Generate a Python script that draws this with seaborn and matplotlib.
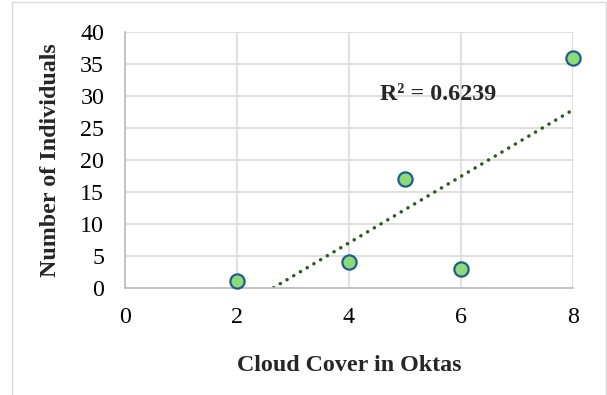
import numpy as np
import pandas as pd
import matplotlib
matplotlib.use("Agg")
import matplotlib.pyplot as plt
import seaborn as sns
from matplotlib.patches import Rectangle

cloud_cover = [2, 4, 5, 6, 8]
individuals = [1, 4, 17, 3, 36]
x_ticks = [0, 2, 4, 6, 8]
y_ticks = [0, 5, 10, 15, 20, 25, 30, 35, 40]
r2_label = "R² = 0.6239"

df = pd.DataFrame({"x": cloud_cover, "y": individuals})

sns.set_theme(style="white")
plt.rcParams['font.family'] = ['Liberation Serif', 'DejaVu Serif']

FS = 17.3
fig = plt.figure(figsize=(6.07, 3.95), dpi=100)
W, H = 607, 395
ax = fig.add_axes([125 / W, 1 - 287.7 / H, (572.7 - 125) / W, (287.7 - 32) / H])

# figure border
fig.patches.append(Rectangle((12 / W, -0.01), (606 - 12) / W, (1 - 2 / H) + 0.01,
                             transform=fig.transFigure, fill=False,
                             edgecolor="#d9d9d9", linewidth=1.0))

# trendline (least squares)
xa = np.array(cloud_cover, dtype=float)
ya = np.array(individuals, dtype=float)
slope, intercept = np.polyfit(xa, ya, 1)
x0 = max(xa.min(), -intercept / slope)
xl = np.array([x0, xa.max()])
ax.plot(xl, slope * xl + intercept, linestyle=(0, (0.05, 2.2)), color="#2b5a1c",
        linewidth=2.5, dash_capstyle="round", zorder=2)

sns.scatterplot(data=df, x="x", y="y", ax=ax, s=105, color="#8cdb78",
                edgecolor="#1f5f8b", linewidth=1.6, zorder=3, clip_on=False)

ax.set_xlim(0, 8)
ax.set_ylim(0, 40)
ax.set_xticks(x_ticks)
ax.set_yticks(y_ticks)
ax.set_xticklabels([str(v) for v in x_ticks], fontsize=FS, color="black")
ax.set_yticklabels([str(v) for v in y_ticks], fontsize=FS, color="black")
ax.tick_params(axis="x", length=0, pad=14)
ax.tick_params(axis="y", length=0, pad=15)
ax.grid(True, color="#d9d9d9", linewidth=1.2)
ax.set_axisbelow(True)
for side in ["top", "right"]:
    ax.spines[side].set_visible(False)
for side in ["left", "bottom"]:
    ax.spines[side].set_color("#bfbfbf")
    ax.spines[side].set_linewidth(1.3)

ax.set_xlabel("Cloud Cover in Oktas", fontsize=FS, fontweight="bold", labelpad=19)
ax.set_ylabel("Number of Individuals", fontsize=FS, fontweight="bold", labelpad=14)

ax.text(5.59, 30.3, r2_label, fontsize=FS, fontweight="bold", ha="center", va="center")

fig.savefig("out.png", dpi=100)
